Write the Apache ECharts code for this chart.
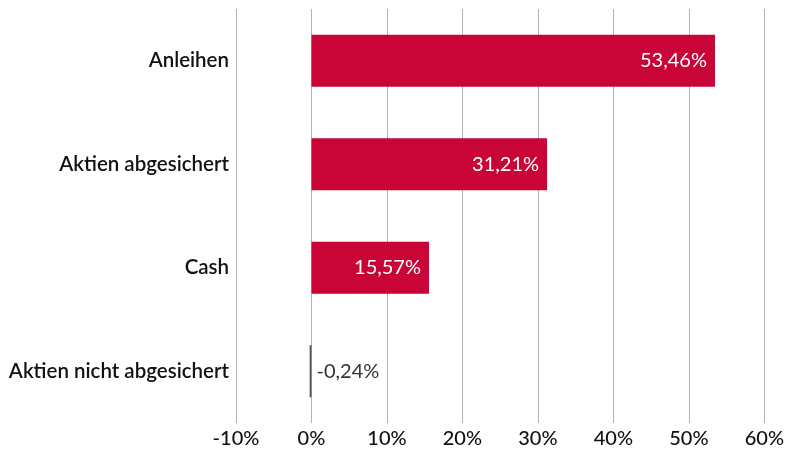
<!DOCTYPE html>
<html><head><meta charset="utf-8">
<script src="https://cdn.jsdelivr.net/npm/echarts@6/dist/echarts.min.js"></script>
<style>html,body{margin:0;padding:0;background:#fff}#c{width:787px;height:452px}</style>
</head><body><div id="c"></div>
<script>
const categories = ["Anleihen", "Aktien abgesichert", "Cash", "Aktien nicht abgesichert"];
const values = [53.46, 31.21, 15.57, -0.24];
const xTicks = [-10, 0, 10, 20, 30, 40, 50, 60];

const fmt = v => v.toFixed(2).replace('.', ',') + '%';
const chart = echarts.init(document.getElementById('c'));
chart.setOption({
  animation: false,
  grid: {left: 236, right: 21, top: 9, bottom: 29, containLabel: false},
  xAxis: {
    type: 'value', min: xTicks[0], max: xTicks[xTicks.length - 1], interval: 10,
    axisLine: {show: false}, axisTick: {show: false},
    splitLine: {show: true, lineStyle: {color: '#b4b4b4', width: 1}},
    axisLabel: {formatter: v => v + '%', fontFamily: 'Lato', fontSize: 20, fontWeight: 500, color: '#111', margin: 6}
  },
  yAxis: {
    type: 'category', data: categories, inverse: true,
    axisLine: {show: false}, axisTick: {show: false},
    axisLabel: {fontFamily: 'Lato', fontSize: 20.5, fontWeight: 600, color: '#111', margin: 7}
  },
  series: [{
    type: 'bar', barWidth: 52,
    data: values.map(v => ({
      value: v,
      itemStyle: {color: v < 0 ? '#555555' : '#C80536'},
      label: v < 0
        ? {show: true, position: 'right', distance: 5, color: '#333', fontFamily: 'Lato', fontSize: 20, formatter: fmt(v)}
        : {show: true, position: 'insideRight', distance: 8, color: '#fff', fontFamily: 'Lato', fontSize: 20, formatter: fmt(v)}
    }))
  }]
});
</script></body></html>
